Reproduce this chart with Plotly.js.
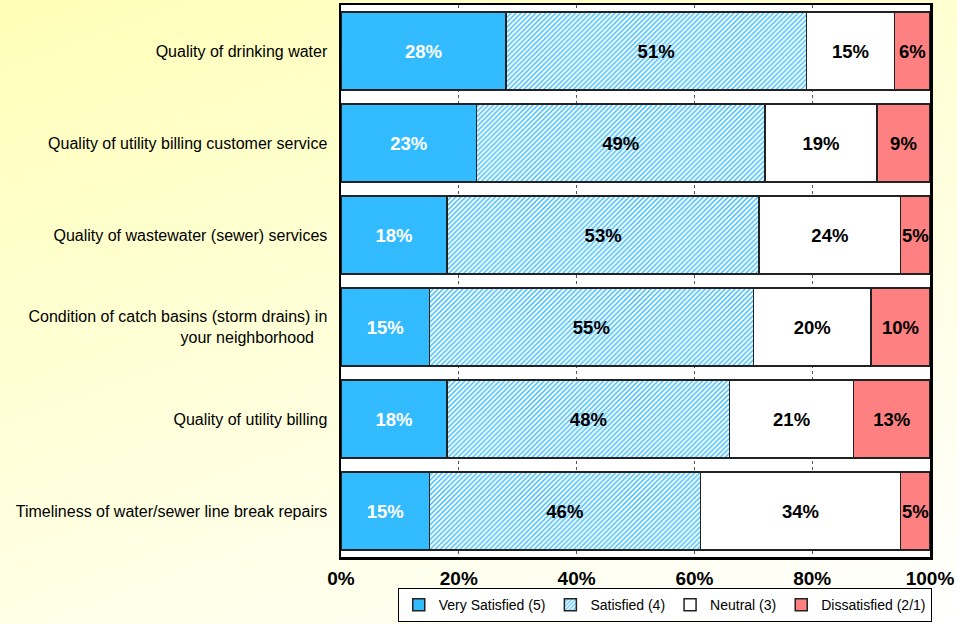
<!DOCTYPE html>
<html><head><meta charset="utf-8">
<script src="https://cdn.plot.ly/plotly-3.0.1.min.js"></script>
<style>
html,body{margin:0;padding:0;}
body{width:957px;height:624px;background:linear-gradient(160deg,#ffffb8 0%,#ffffd8 45%,#ffffff 100%);}
#chart{width:957px;height:624px;}
</style></head>
<body><div id="chart"></div>
<script>
const categories = [
  "Quality of drinking water",
  "Quality of utility billing customer service",
  "Quality of wastewater (sewer) services",
  "Condition of catch basins (storm drains) in<br>your neighborhood\u00a0\u00a0\u00a0",
  "Quality of utility billing",
  "Timeliness of water/sewer line break repairs"
];
const verySatisfied = [28, 23, 18, 15, 18, 15];
const satisfied     = [51, 49, 53, 55, 48, 46];
const neutral       = [15, 19, 24, 20, 21, 34];
const dissatisfied  = [6, 9, 5, 10, 13, 5];
const seriesNames = ["Very Satisfied (5)", "Satisfied (4)", "Neutral (3)", "Dissatisfied (2/1)"];
const xTickVals = [0, 20, 40, 60, 80, 100];
const xTickText = ["0%", "20%", "40%", "60%", "80%", "100%"];

const FONT = 'Liberation Sans, Arial, sans-serif';
function pct(arr){ return arr.map(v => v + '%'); }
const common = {
  type: 'bar', orientation: 'h', y: categories, width: 0.85,
  textposition: 'inside', insidetextanchor: 'middle',
  textangle: 0, constraintext: 'none', hoverinfo: 'skip',
};
const edge = {color: '#222', width: 1.5};
const traces = [
  Object.assign({}, common, {x: verySatisfied, text: pct(verySatisfied), name: seriesNames[0],
    marker: {color: '#33bbff', line: edge},
    textfont: {family: FONT, size: 18.5, color: '#ffffff', weight: 'bold'}}),
  Object.assign({}, common, {x: satisfied, text: pct(satisfied), name: seriesNames[1],
    marker: {color: '#ffffff', line: edge,
      pattern: {shape: '/', fgcolor: '#33bbff', bgcolor: '#ffffff', size: 3.5, solidity: 0.4, fillmode: 'replace'}},
    textfont: {family: FONT, size: 18.5, color: '#000000', weight: 'bold'}}),
  Object.assign({}, common, {x: neutral, text: pct(neutral), name: seriesNames[2],
    marker: {color: '#ffffff', line: edge},
    textfont: {family: FONT, size: 18.5, color: '#000000', weight: 'bold'}}),
  Object.assign({}, common, {x: dissatisfied, text: pct(dissatisfied), name: seriesNames[3],
    marker: {color: '#ff8080', line: edge},
    textfont: {family: FONT, size: 18.5, color: '#000000', weight: 'bold'}}),
];

const layout = {
  barmode: 'stack', bargap: 0.15,
  width: 957, height: 624,
  paper_bgcolor: 'rgba(0,0,0,0)', plot_bgcolor: '#ffffff',
  margin: {l: 341, r: 27, t: 5, b: 67, pad: 0, autoexpand: false},
  font: {family: FONT, size: 16, color: '#000'},
  xaxis: {
    range: [0, 100], tickvals: xTickVals, ticktext: xTickText,
    tickfont: {family: FONT, size: 19, weight: 'bold', color: '#000'},
    showgrid: true, gridcolor: '#555', griddash: 'dot', gridwidth: 1,
    showline: true, linecolor: '#000', linewidth: 2.5, mirror: true,
    zeroline: false, ticks: '', ticklen: 0, ticklabelstandoff: 3, fixedrange: true,
    automargin: false,
  },
  yaxis: {
    autorange: 'reversed', showgrid: false,
    tickfont: {family: FONT, size: 16, color: '#000'},
    showline: true, linecolor: '#000', linewidth: 2.5, mirror: true,
    ticks: '', ticklen: 0, ticklabelstandoff: 8, automargin: false,
  },
  showlegend: true,
  legend: {
    orientation: 'h', x: 1.003, xanchor: 'right', y: -0.118, yanchor: 'bottom',
    bgcolor: '#ffffff', bordercolor: '#000', borderwidth: 1,
    font: {family: FONT, size: 14, color: '#000'},
    itemwidth: 30, traceorder: 'normal', tracegroupgap: 0,
  },
};
Plotly.newPlot('chart', traces, layout, {displayModeBar: false, staticPlot: true});
</script></body></html>
